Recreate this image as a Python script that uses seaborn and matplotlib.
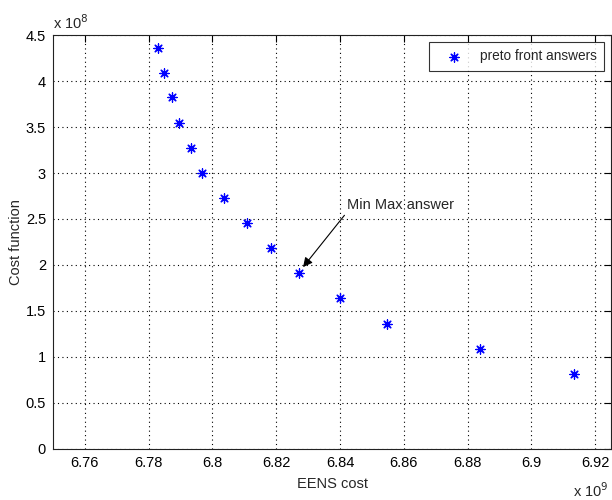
import matplotlib
matplotlib.use("Agg")
import matplotlib.pyplot as plt
from matplotlib.ticker import FuncFormatter, MultipleLocator
import seaborn as sns
import pandas as pd

# values (x in units of 1e9, y in units of 1e8)
eens_cost = [6.7830, 6.7849, 6.7873, 6.7896, 6.7933, 6.7968, 6.8036,
             6.8109, 6.8183, 6.8272, 6.8399, 6.8546, 6.8839, 6.9134]
cost_fn = [4.355, 4.084, 3.826, 3.547, 3.268, 2.997, 2.728,
           2.453, 2.181, 1.917, 1.638, 1.359, 1.083, 0.819]
series_name = "preto front answers"
minmax_idx = 9

sns.set_style("white")
plt.rcParams["font.family"] = ["Liberation Sans", "DejaVu Sans"]
plt.rcParams["font.size"] = 10

df = pd.DataFrame({"x": eens_cost, "y": cost_fn})

fig = plt.figure(figsize=(6.12, 5.0), dpi=100)
ax = fig.add_axes([0.0866, 0.102, 0.912, 0.828])

sns.scatterplot(data=df, x="x", y="y", ax=ax, marker=(8, 2, 0), color="#0000ff",
                s=45, linewidth=0.9, label=series_name, zorder=3)

ax.set_xlim(6.75, 6.925)
ax.set_ylim(0, 4.5)
ax.xaxis.set_major_locator(MultipleLocator(0.02))
ax.yaxis.set_major_locator(MultipleLocator(0.5))
fmt = FuncFormatter(lambda v, p: "%g" % round(v, 4))
ax.xaxis.set_major_formatter(fmt)
ax.yaxis.set_major_formatter(fmt)

ax.grid(True, linestyle=(0, (1, 3)), color="black", linewidth=0.8)
ax.tick_params(direction="in", length=5, width=0.8, top=True, right=True,
               colors="black", labelsize=10.5, pad=5)
for s in ax.spines.values():
    s.set_color("#222222")
    s.set_linewidth(0.8)

ax.set_xlabel("EENS cost", fontsize=10.5, labelpad=5)
ax.set_ylabel("Cost function", fontsize=10.5, labelpad=2)

ax.text(0.0, 1.008, r"x 10$^{8}$", transform=ax.transAxes, fontsize=10.5,
        ha="left", va="bottom")
ax.text(0.995, -0.078, r"x 10$^{9}$", transform=ax.transAxes, fontsize=10.5,
        ha="right", va="top")

ax.annotate("Min Max answer", xy=(eens_cost[minmax_idx] + 0.0012, cost_fn[minmax_idx] + 0.06),
            xytext=(6.8422, 2.652), fontsize=10.5, ha="left", va="center",
            arrowprops=dict(arrowstyle="-|>", color="black", lw=0.8,
                            mutation_scale=14, shrinkA=0, shrinkB=0,
                            relpos=(0.0, 0.0)))

leg = ax.legend(loc="upper right", frameon=True, fancybox=False, fontsize=9.8,
                borderaxespad=0.5, handlelength=2.6, handletextpad=0.6,
                borderpad=0.55)
leg.get_frame().set_edgecolor("black")
leg.get_frame().set_linewidth(0.8)

fig.savefig("out.png", dpi=100)
